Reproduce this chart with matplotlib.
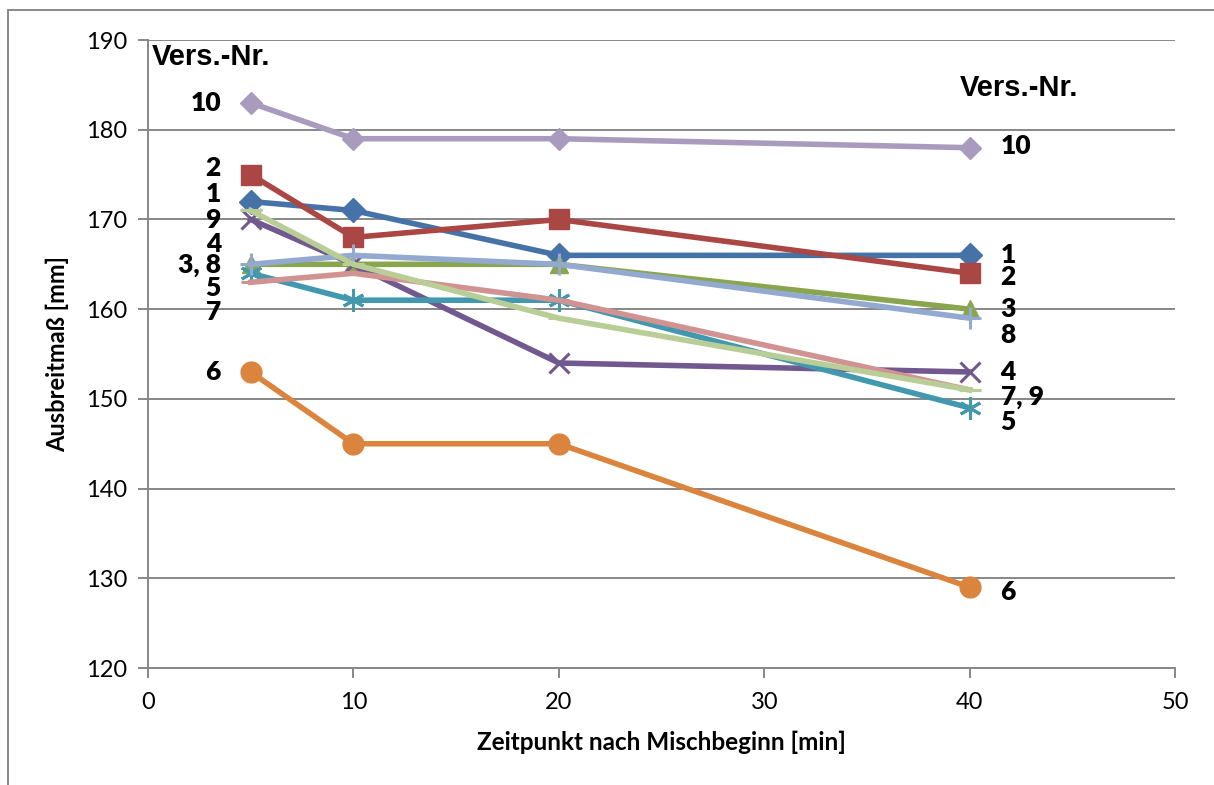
import matplotlib
matplotlib.use("Agg")
import matplotlib.pyplot as plt
from matplotlib.patches import Rectangle

# Messzeitpunkte [min] und Ausbreitmaße [mm] je Versuch
zeit = [5, 10, 20, 40]
versuche = ["1", "2", "3", "4", "5", "6", "7", "8", "9", "10"]
werte = {
    "1": [172, 171, 166, 166],
    "2": [175, 168, 170, 164],
    "3": [165, 165, 165, 160],
    "4": [170, 165, 154, 153],
    "5": [164, 161, 161, 149],
    "6": [153, 145, 145, 129],
    "7": [163, 164, 161, 151],
    "8": [165, 166, 165, 159],
    "9": [171, 165, 159, 151],
    "10": [183, 179, 179, 178],
}
farben = {
    "1": "#4572A7", "2": "#AA4643", "3": "#89A54E", "4": "#71588F",
    "5": "#4198AF", "6": "#DB843D", "7": "#D19392", "8": "#93A9CF",
    "9": "#B9CD96", "10": "#A99BBD",
}
marker = {
    "1": "D", "2": "s", "3": "^", "4": "x", "5": (6, 2, 0), "6": "o",
    "7": "_", "8": "+", "9": "_", "10": "D",
}
groesse = {
    "1": 12, "2": 15, "3": 13, "4": 15, "5": 16, "6": 15,
    "7": 15, "8": 16, "9": 16, "10": 11,
}

# Beschriftungen links / rechts (Text, y-Position)
labels_links = [("10", 183), ("2", 175.7), ("1", 172.8), ("9", 169.9), ("4", 167.3),
                ("3, 8", 164.9), ("5", 162.4), ("7", 159.7), ("6", 153)]
labels_rechts = [("10", 178.2), ("1", 166), ("2", 163.6), ("3", 160), ("8", 157.1),
                 ("4", 153), ("7, 9", 150.2), ("5", 147.4), ("6", 128.5)]

fig = plt.figure(figsize=(12.14, 7.85), dpi=100)
ax = fig.add_axes([0.1219, 0.149, 0.8461, 0.8])

for v in versuche:
    m = marker[v]
    ax.plot(zeit, werte[v], color=farben[v], lw=4, marker=m,
            markersize=groesse[v], markeredgecolor=farben[v],
            markeredgewidth=2.2 if m in ("x", "+", "_") or isinstance(m, tuple) else 1,
            solid_joinstyle="round", zorder=3)

ax.set_xlim(0, 50)
ax.set_ylim(120, 190)
ax.set_xticks(range(0, 51, 10))
ax.set_yticks(range(120, 191, 10))
ax.yaxis.grid(True, color="#878787", lw=1.4)
ax.set_axisbelow(True)
for s in ["top", "right"]:
    ax.spines[s].set_visible(False)
for s in ["left", "bottom"]:
    ax.spines[s].set_color("#878787")
    ax.spines[s].set_linewidth(1.4)
ax.tick_params(axis="both", direction="out", length=7, width=1.4, color="#878787",
               labelsize=17)
ax.tick_params(axis="y", pad=8)
ax.tick_params(axis="x", pad=10)
for t in ax.get_xticklabels() + ax.get_yticklabels():
    t.set_fontfamily("Lato")

ax.set_xlabel("Zeitpunkt nach Mischbeginn [min]", fontsize=17.5, fontweight="bold",
              fontfamily="Lato", labelpad=13)
ax.set_ylabel("Ausbreitmaß [mm]", fontsize=17, fontweight="bold",
              fontfamily="Lato", labelpad=12)

# Versuchsnummern
for txt, y in labels_links:
    ax.text(3.55, y, txt, ha="right", va="center", fontsize=19, fontweight="heavy",
            fontfamily="Lato", clip_on=False)
for txt, y in labels_rechts:
    ax.text(41.5, y, txt, ha="left", va="center", fontsize=19, fontweight="heavy",
            fontfamily="Lato", clip_on=False)
ax.text(0.2, 188.1, "Vers.-Nr.", ha="left", va="center", fontsize=21,
        fontweight="bold", fontfamily="Liberation Sans")
ax.text(39.5, 184.6, "Vers.-Nr.", ha="left", va="center", fontsize=21,
        fontweight="bold", fontfamily="Liberation Sans")

# Rahmen des Diagrammbereichs
fig.add_artist(Rectangle((8 / 1214, -0.2), 1.5, 1 - 10 / 785 + 0.2,
                         transform=fig.transFigure, fill=False,
                         edgecolor="#878787", lw=1.4, clip_on=False))

fig.savefig("out.png", dpi=100)
